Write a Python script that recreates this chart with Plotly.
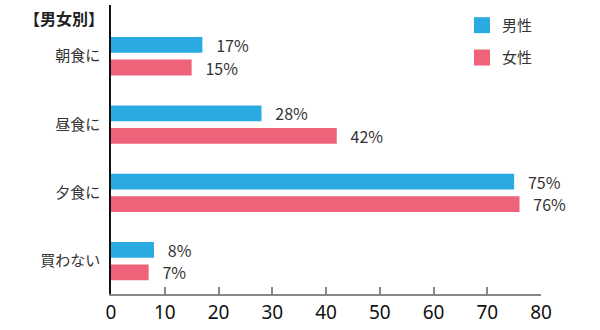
import plotly.graph_objects as go

categories = ["朝食に", "昼食に", "夕食に", "買わない"]
male = [17, 28, 75, 8]
female = [15, 42, 76, 7]
series_names = ["男性", "女性"]
colors = ["#29ABE2", "#EE637A"]
x_ticks = [0, 10, 20, 30, 40, 50, 60, 70, 80]

PLOT_W, PLOT_H, ML, MT = 430, 295, 111, 5


def px_x(px):
    return (px - ML) / PLOT_W


def px_y(py):
    return 1 - (py - MT) / PLOT_H


fig = go.Figure()
for name, vals, col in zip(series_names, [male, female], colors):
    fig.add_trace(go.Bar(
        y=categories, x=vals, name=name, orientation="h",
        marker=dict(color=col, line=dict(width=0)),
        texttemplate="   %{x}%", textposition="outside", constraintext="none",
        textfont=dict(family="Noto Sans CJK JP", size=16, color="#333333"),
        cliponaxis=False, showlegend=False,
    ))
legend_ids = ["legend", "legend2"]
for name, col, lid in zip(series_names, colors, legend_ids):
    fig.add_trace(go.Scatter(
        x=[None], y=[None], mode="markers", name=name, legend=lid,
        marker=dict(symbol="square", size=18, color=col),
    ))

legend_common = dict(
    xanchor="left", yanchor="top",
    font=dict(family="Noto Sans CJK JP", size=15, color="#333333"),
    bgcolor="rgba(0,0,0,0)", itemwidth=30,
)

fig.update_layout(
    width=600, height=330,
    margin=dict(l=ML, r=59, t=MT, b=30),
    paper_bgcolor="white", plot_bgcolor="white",
    barmode="group", bargap=0.34, bargroupgap=0.3,
    font=dict(family="Noto Sans CJK JP", color="#333333"),
    xaxis=dict(
        range=[0, 80], tickvals=x_ticks, showgrid=False, zeroline=False,
        showline=True, linecolor="#888888", linewidth=1.5,
        ticks="inside", ticklen=7, tickcolor="#888888", tickwidth=1.5,
        tickfont=dict(family="Liberation Sans Narrow, Noto Sans", size=19, color="#111111"),
    ),
    yaxis=dict(
        type="category", categoryorder="array", categoryarray=categories,
        range=[3.48, -0.75], showgrid=False, zeroline=False,
        showline=True, linecolor="#111111", linewidth=1.5, ticks="",
        ticklabelstandoff=6,
        tickfont=dict(family="Noto Sans CJK JP", size=15, color="#333333"),
    ),
    legend=dict(x=px_x(462), y=px_y(9), **legend_common),
    legend2=dict(x=px_x(462), y=px_y(42), **legend_common),
    annotations=[dict(
        text="<b>【男女別】</b>", x=px_x(106), y=px_y(18), xref="paper", yref="paper",
        showarrow=False, xanchor="right", yanchor="middle",
        font=dict(family="Noto Sans CJK JP", size=16, color="#222222"),
    )],
)

fig.write_html("out.html")
